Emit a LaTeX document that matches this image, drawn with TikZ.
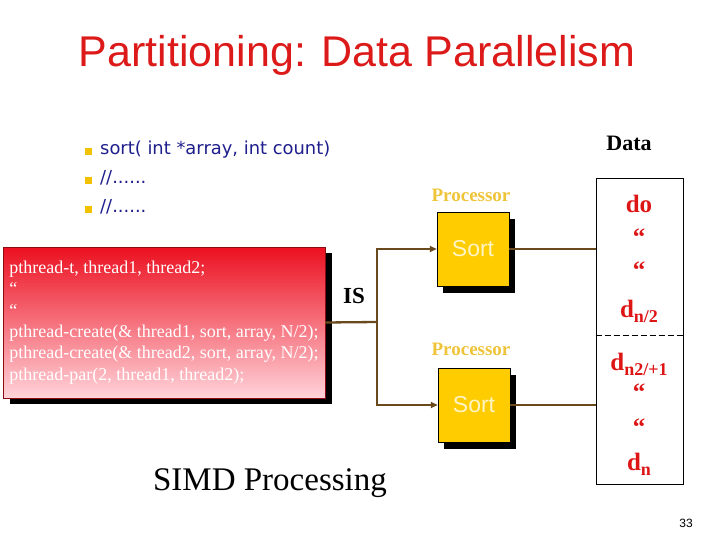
\documentclass[tikz,border=0pt]{standalone}
\usepackage{fontspec}
\setmainfont{Liberation Serif}
\setsansfont{Liberation Sans}
\newfontfamily\itemfont{DejaVu Sans}
\usetikzlibrary{positioning,shadows,arrows.meta}
\definecolor{titlered}{HTML}{DD1A1A}
\definecolor{itemblue}{HTML}{1E1E8C}
\definecolor{bulletgold}{HTML}{F2C200}
\definecolor{sortgold}{HTML}{FFCC00}
\definecolor{sorttext}{HTML}{FFF4C4}
\definecolor{procgold}{HTML}{EFC43A}
\definecolor{wirebrown}{HTML}{6A4A1C}
\definecolor{datared}{HTML}{DD1515}
\definecolor{codetop}{HTML}{EC1020}
\definecolor{codebottom}{HTML}{FFD3DA}
\newcommand{\dsub}[1]{\raisebox{-5pt}{\fontsize{18}{20}\selectfont #1}}
\tikzset{
  sortbox/.style={draw=black, fill=sortgold, minimum width=72pt, minimum height=74pt,
    general shadow={fill=black, shadow xshift=6pt, shadow yshift=-7pt},
    text=sorttext, font=\sffamily\fontsize{23}{26}\selectfont},
  proclabel/.style={text=procgold, font=\bfseries\fontsize{19}{22}\selectfont, anchor=base},
  wire/.style={draw=wirebrown, line width=2.3pt},
  datatext/.style={text=datared, font=\bfseries\fontsize{25}{28}\selectfont, anchor=base},
}

\begin{document}
\begin{tikzpicture}[x=1pt,y=-1pt]
      \useasboundingbox (0,0) rectangle (720,540);
      \node[text=titlered, font=\sffamily\fontsize{43}{50}\selectfont, anchor=base] (title) at (357,67) {Partitioning: Data Parallelism};
      % bullet list
      \foreach \y/\txt in {155/{sort( int *array, int count)},184/{//......},213/{//......}} {
        \fill[bulletgold] (85,\y-6.5) rectangle (92,\y+0.5);
        \node[text=itemblue, font=\itemfont\fontsize{17.9}{20}\selectfont, anchor=base west, inner sep=0] (item\y) at (100,\y) {\txt};
      }
      % code box
      \node[draw=codetop!60!black, top color=codetop, bottom color=codebottom,
        general shadow={fill=black, shadow xshift=7pt, shadow yshift=-6pt},
        minimum width=322pt, minimum height=151pt, align=left, text=white,
        font=\fontsize{18}{21.4}\selectfont] (code) at (164,322.5)
        {pthread-t, thread1, thread2;\\ “\\ “\\
         pthread-create(\& thread1, sort, array, N/2);\\
         pthread-create(\& thread2, sort, array, N/2);\\
         pthread-par(2, thread1, thread2);};
      \node[font=\bfseries\fontsize{23}{26}\selectfont, anchor=base] (is) at (354,303) {IS};
      % processors
      \node[sortbox] (sort1) at (473,249) {Sort};
      \node[sortbox] (sort2) at (474,405) {Sort};
      \node[proclabel] (proc1) at (471,202) {Processor};
      \node[proclabel] (proc2) at (471,355) {Processor};
      \coordinate (split) at (377,322);
      \draw[wire] (code.east) -- (split);
      \draw[wire, -{Triangle[length=7pt,width=6pt]}] (split) |- (sort1.west);
      \draw[wire, -{Triangle[length=7pt,width=6pt]}] (split) |- (sort2.west);
      % data
      \node[draw, semithick, minimum width=87pt, minimum height=306pt, inner sep=0] (data) at (639.5,331) {};
      \draw[semithick, dash pattern=on 6pt off 3pt] (data.west |- 0,335) -- (data.east |- 0,335);
      \node[font=\bfseries\fontsize{22}{24}\selectfont, anchor=base] (datalabel) at (629,151) {Data};
      \draw[wire] (sort1.east) -- (sort1.east -| data.west);
      \draw[wire] (sort2.east) -- (sort2.east -| data.west);
      \node[datatext] (d0) at (639,213) {do};
      \node[datatext] (dhalf) at (639,317) {d\dsub{n/2}};
      \node[datatext] (dnext) at (639,370) {d\dsub{n2/+1}};
      \node[datatext] (dn) at (639,470) {d\dsub{n}};
      \foreach \y/\n in {245/qa,278/qb,400/qc,435/qd}
        \node[datatext] (\n) at (639,\y) {“};
      \node[font=\fontsize{33}{36}\selectfont, anchor=base] (simd) at (270,490) {SIMD Processing};
      \node[font=\sffamily\fontsize{12}{14}\selectfont, anchor=base] (page) at (686,527) {33};
\end{tikzpicture}
\end{document}
